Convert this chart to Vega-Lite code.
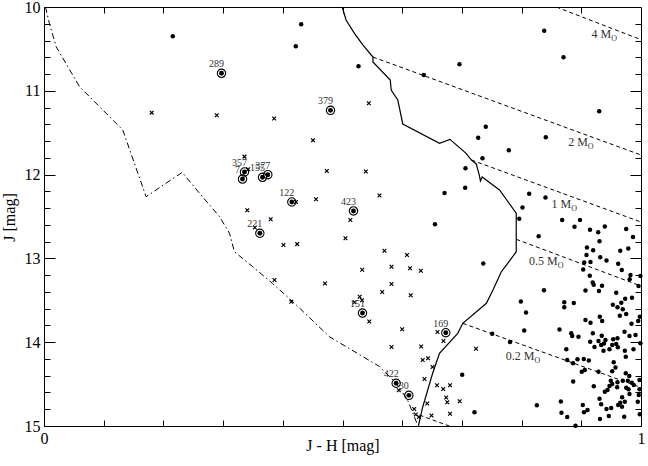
{
  "$schema": "https://vega.github.io/schema/vega-lite/v6.json",
  "width": 597,
  "height": 419,
  "autosize": "none",
  "padding": {"left": 44, "top": 7, "right": 7, "bottom": 40},
  "background": "white",
  "config": {
    "view": {"stroke": "black", "strokeWidth": 1},
    "font": "Liberation Serif, Times New Roman, serif",
    "axis": {"grid": false, "domain": false, "tickColor": "black", "tickWidth": 1, "labelColor": "black", "titleColor": "black", "labelFont": "Liberation Serif, Times New Roman, serif", "titleFont": "Liberation Serif, Times New Roman, serif", "labelFontSize": 16, "titleFontSize": 16, "titleFontWeight": "normal", "labelOverlap": false, "labelFlush": false, "labelBound": false}
  },
  "datasets": {
    "dots": [
      {"x":0.2157,"J":10.350},{"x":0.4308,"J":10.206},{"x":0.4218,"J":10.469},{"x":0.5268,"J":10.708},{"x":0.6362,"J":10.811},{"x":0.6960,"J":10.684},{"x":0.8379,"J":10.283},{"x":0.8702,"J":10.600},{"x":0.9300,"J":11.245},{"x":0.7400,"J":11.428},{"x":0.7273,"J":11.560},{"x":0.8405,"J":11.555},{"x":0.7786,"J":11.710},{"x":0.7345,"J":11.805},{"x":0.7060,"J":11.925},{"x":0.7055,"J":12.156},{"x":0.6709,"J":12.220},{"x":0.8127,"J":12.228},{"x":0.8400,"J":12.273},{"x":0.6549,"J":12.592},{"x":0.7358,"J":13.061},{"x":0.8015,"J":12.393},{"x":0.7961,"J":12.528},{"x":0.8680,"J":12.542},{"x":0.8978,"J":12.542},{"x":0.8886,"J":12.622},{"x":0.9146,"J":12.659},{"x":0.9394,"J":12.619},{"x":0.9752,"J":12.649},{"x":0.9283,"J":12.687},{"x":0.9305,"J":12.795},{"x":0.9866,"J":12.745},{"x":0.8286,"J":12.736},{"x":0.9095,"J":12.870},{"x":0.9199,"J":12.902},{"x":0.9087,"J":12.959},{"x":0.9317,"J":12.987},{"x":0.9422,"J":13.025},{"x":0.9653,"J":12.909},{"x":0.9787,"J":12.882},{"x":0.9049,"J":13.049},{"x":0.9154,"J":13.043},{"x":0.9032,"J":13.132},{"x":0.9142,"J":13.208},{"x":0.9191,"J":13.288},{"x":0.9208,"J":13.314},{"x":0.9347,"J":13.326},{"x":0.9618,"J":13.065},{"x":0.9678,"J":13.138},{"x":0.9824,"J":13.198},{"x":0.9811,"J":13.249},{"x":0.999,"J":13.210},{"x":0.9958,"J":13.329},{"x":0.8375,"J":13.380},{"x":0.9070,"J":13.383},{"x":0.9296,"J":13.389},{"x":0.9585,"J":13.409},{"x":0.7987,"J":13.514},{"x":0.8074,"J":13.646},{"x":0.8715,"J":13.524},{"x":0.8715,"J":13.582},{"x":0.8874,"J":13.532},{"x":0.9528,"J":13.552},{"x":0.9606,"J":13.584},{"x":0.9670,"J":13.529},{"x":0.9735,"J":13.482},{"x":0.9849,"J":13.469},{"x":0.9695,"J":13.607},{"x":0.9752,"J":13.663},{"x":0.9645,"J":13.684},{"x":0.9070,"J":13.735},{"x":0.9154,"J":13.767},{"x":0.9310,"J":13.696},{"x":0.9350,"J":13.747},{"x":0.9841,"J":13.779},{"x":0.9953,"J":13.747},{"x":0.998,"J":13.696},
      {"x":0.7508,"J":13.899},{"x":0.7806,"J":13.998},{"x":0.8044,"J":13.860},{"x":0.8635,"J":13.848},{"x":0.7005,"J":14.388},{"x":0.7211,"J":14.837},{"x":0.8255,"J":14.752},{"x":0.8657,"J":14.708},{"x":0.8668,"J":14.841},{"x":0.8764,"J":14.893},{"x":0.8903,"J":14.998},{"x":0.8831,"J":13.894},{"x":0.8848,"J":13.926},{"x":0.8953,"J":13.934},{"x":0.9149,"J":13.994},{"x":0.9193,"J":13.894},{"x":0.9343,"J":13.922},{"x":0.9288,"J":13.986},{"x":0.9405,"J":13.974},{"x":0.9333,"J":14.033},{"x":0.9372,"J":14.101},{"x":0.9472,"J":14.085},{"x":0.9518,"J":14.033},{"x":0.9606,"J":13.953},{"x":0.9585,"J":14.022},{"x":0.9724,"J":13.875},{"x":0.9807,"J":13.926},{"x":0.9908,"J":13.914},{"x":0.999,"J":14.013},{"x":0.9874,"J":14.085},{"x":0.9729,"J":14.101},{"x":0.8749,"J":14.083},{"x":0.8765,"J":14.212},{"x":0.8861,"J":14.252},{"x":0.8936,"J":14.203},{"x":0.9042,"J":14.200},{"x":0.9126,"J":14.218},{"x":0.9059,"J":14.332},{"x":0.9008,"J":14.353},{"x":0.8864,"J":14.469},{"x":0.9288,"J":14.352},{"x":0.9543,"J":14.240},{"x":0.9573,"J":14.302},{"x":0.9518,"J":14.347},{"x":0.9745,"J":14.173},{"x":0.9745,"J":14.371},{"x":0.9804,"J":14.403},{"x":0.9494,"J":14.459},{"x":0.9606,"J":14.479},{"x":0.9695,"J":14.459},{"x":0.9779,"J":14.459},{"x":0.9846,"J":14.483},{"x":0.9975,"J":14.451},{"x":0.9879,"J":14.511},{"x":0.9209,"J":14.526},{"x":0.9439,"J":14.570},{"x":0.9394,"J":14.591},{"x":0.9472,"J":14.523},{"x":0.9518,"J":14.499},{"x":0.9601,"J":14.538},{"x":0.9752,"J":14.543},{"x":0.9791,"J":14.562},{"x":0.9975,"J":14.562},{"x":0.9807,"J":14.618},{"x":0.9963,"J":14.630},{"x":0.9305,"J":14.675},{"x":0.9333,"J":14.740},{"x":0.9422,"J":14.797},{"x":0.9501,"J":14.785},{"x":0.9652,"J":14.722},{"x":0.9682,"J":14.770},{"x":0.9729,"J":14.710},{"x":0.9618,"J":14.749},{"x":0.9946,"J":14.710},{"x":0.9104,"J":14.809},{"x":0.9045,"J":14.837},{"x":0.9025,"J":14.749},{"x":0.9313,"J":14.916},{"x":0.9461,"J":14.881},{"x":0.9719,"J":14.889},{"x":0.998,"J":14.860},{"x":0.9684,"J":14.657},{"x":0.9221,"J":14.057},{"x":0.9380,"J":14.016},{"x":0.9534,"J":13.965},{"x":0.9612,"J":14.061}
    ],
    "crosses": [
      {"x":0.1804,"J":11.261},{"x":0.2894,"J":11.292},{"x":0.3856,"J":11.331},{"x":0.4506,"J":11.591},{"x":0.5441,"J":11.149},{"x":0.3358,"J":11.786},{"x":0.3420,"J":11.936},{"x":0.4737,"J":11.957},{"x":0.5390,"J":11.963},{"x":0.5620,"J":12.249},{"x":0.4556,"J":12.294},{"x":0.4221,"J":12.327},{"x":0.3405,"J":12.426},{"x":0.3797,"J":12.532},{"x":0.5131,"J":12.542},{"x":0.3531,"J":12.631},{"x":0.4012,"J":12.840},{"x":0.4241,"J":12.830},{"x":0.5050,"J":12.760},{"x":0.5703,"J":12.908},{"x":0.6080,"J":12.959},{"x":0.5330,"J":13.135},{"x":0.5821,"J":13.099},{"x":0.6131,"J":13.118},{"x":0.6312,"J":13.147},{"x":0.3861,"J":13.258},{"x":0.4707,"J":13.300},{"x":0.5821,"J":13.306},{"x":0.5665,"J":13.401},{"x":0.6142,"J":13.440},{"x":0.4142,"J":13.517},{"x":0.5288,"J":13.457},{"x":0.5201,"J":13.524},{"x":0.5327,"J":13.500},{"x":0.5449,"J":13.753},{"x":0.6000,"J":13.846},{"x":0.6591,"J":13.878},{"x":0.6692,"J":13.986},{"x":0.5821,"J":14.057},{"x":0.6318,"J":14.051},{"x":0.7236,"J":14.079},{"x":0.6343,"J":14.212},{"x":0.6432,"J":14.192},{"x":0.6508,"J":14.296},{"x":0.6374,"J":14.439},{"x":0.6583,"J":14.513},{"x":0.6687,"J":14.558},{"x":0.6801,"J":14.513},{"x":0.5943,"J":14.573},{"x":0.6737,"J":14.660},{"x":0.6755,"J":14.716},{"x":0.6963,"J":14.704},{"x":0.6420,"J":14.731},{"x":0.6201,"J":14.797},{"x":0.6801,"J":14.853},{"x":0.6228,"J":14.863},{"x":0.6281,"J":14.893},{"x":0.6491,"J":14.875}
    ],
    "circled": [
      {"x":0.2973,"J":10.791,"id":"289"},{"x":0.4799,"J":11.233,"id":"379"},{"x":0.3358,"J":11.969,"id":"357"},{"x":0.3325,"J":12.053,"id":"7"},{"x":0.3660,"J":12.032,"id":"155"},{"x":0.3749,"J":12.001,"id":"377"},{"x":0.4151,"J":12.327,"id":"122"},{"x":0.5184,"J":12.434,"id":"423"},{"x":0.3615,"J":12.700,"id":"221"},{"x":0.5335,"J":13.652,"id":"151"},{"x":0.6730,"J":13.887,"id":"169"},{"x":0.5899,"J":14.490,"id":"422"},{"x":0.6111,"J":14.634,"id":"30"}
    ],
    "dashdot": [
      {"i":0,"x":0.0025,"J":10.0},{"i":1,"x":0.009,"J":10.195},{"i":2,"x":0.0204,"J":10.474},{"i":3,"x":0.0595,"J":10.951},{"i":4,"x":0.093,"J":11.19},{"i":5,"x":0.132,"J":11.468},{"i":6,"x":0.171,"J":12.264},{"i":7,"x":0.2315,"J":11.973},{"i":8,"x":0.2605,"J":12.223},{"i":9,"x":0.294,"J":12.502},{"i":10,"x":0.3107,"J":12.70},{"i":11,"x":0.319,"J":12.92},{"i":12,"x":0.3497,"J":13.10},{"i":13,"x":0.383,"J":13.30},{"i":14,"x":0.4168,"J":13.517},{"i":15,"x":0.478,"J":13.934},{"i":16,"x":0.562,"J":14.29},{"i":17,"x":0.590,"J":14.49},{"i":18,"x":0.609,"J":14.69},{"i":19,"x":0.626,"J":14.99}
    ],
    "solid": [
      {"i":0,"x":0.4995,"J":10.0},{"i":1,"x":0.506,"J":10.155},{"i":2,"x":0.520,"J":10.314},{"i":3,"x":0.534,"J":10.453},{"i":4,"x":0.551,"J":10.597},{"i":5,"x":0.551,"J":10.656},{"i":6,"x":0.580,"J":10.871},{"i":7,"x":0.5816,"J":10.99},{"i":8,"x":0.5926,"J":11.11},{"i":9,"x":0.601,"J":11.396},{"i":10,"x":0.6625,"J":11.626},{"i":11,"x":0.680,"J":11.579},{"i":12,"x":0.707,"J":11.746},{"i":13,"x":0.716,"J":11.826},{"i":14,"x":0.724,"J":11.873},{"i":15,"x":0.7295,"J":12.017},{"i":16,"x":0.731,"J":12.076},{"i":17,"x":0.734,"J":12.029},{"i":18,"x":0.763,"J":12.184},{"i":19,"x":0.791,"J":12.46},{"i":20,"x":0.791,"J":12.92},{"i":21,"x":0.785,"J":12.98},{"i":22,"x":0.766,"J":13.16},{"i":23,"x":0.752,"J":13.377},{"i":24,"x":0.741,"J":13.536},{"i":25,"x":0.7015,"J":13.775},{"i":26,"x":0.693,"J":13.894},{"i":27,"x":0.6625,"J":14.132},{"i":28,"x":0.651,"J":14.371},{"i":29,"x":0.6345,"J":14.77},{"i":30,"x":0.627,"J":15.0}
    ],
    "mass": [
      {"m":"4","x":0.858,"J":10.0},{"m":"4","x":1.0,"J":10.39},
      {"m":"2","x":0.551,"J":10.597},{"m":"2","x":1.0,"J":11.766},
      {"m":"1","x":0.716,"J":11.826},{"m":"1","x":1.0,"J":12.566},
      {"m":"0.5","x":0.791,"J":12.772},{"m":"0.5","x":1.0,"J":13.33},
      {"m":"0.2","x":0.7015,"J":13.775},{"m":"0.2","x":1.0,"J":14.54},
      {"m":"0.1","x":0.629,"J":14.87},{"m":"0.1","x":0.679,"J":15.0}
    ],
    "masslab": [
      {"x":0.9501,"J":10.374,"t":"4 M","s":"O"},{"x":0.911,"J":11.655,"t":"2 M","s":"O"},{"x":0.883,"J":12.402,"t":"1 M","s":"O"},{"x":0.8606,"J":13.079,"t":"0.5 M","s":"O"},{"x":0.8216,"J":14.212,"t":"0.2 M","s":"O"}
    ]
  },
  "layer": [
    {
      "data": {"name": "dashdot"},
      "mark": {"type": "line", "color": "black", "strokeWidth": 1, "strokeDash": [6, 3, 1.5, 3]},
      "encoding": {
        "x": {"field": "x", "type": "quantitative", "scale": {"domain": [0, 1], "nice": false, "zero": false},
          "axis": {"orient": "bottom", "title": "J - H [mag]", "titleBaseline": "alphabetic", "titleY": 24, "values": [0, 0.1, 0.2, 0.3, 0.4, 0.5, 0.6, 0.7, 0.8, 0.9, 1], "tickSize": -6, "labelPadding": 10, "labelExpr": "datum.value == 0 ? '0' : (datum.value == 1 ? '1' : '')"}},
        "y": {"field": "J", "type": "quantitative", "scale": {"domain": [10, 15], "reverse": true, "nice": false, "zero": false},
          "axis": {"orient": "left", "title": "J [mag]", "titleBaseline": "alphabetic", "titleX": -30, "titleY": 210, "titleAngle": -90, "values": [10, 10.2, 10.4, 10.6, 10.8, 11, 11.2, 11.4, 11.6, 11.8, 12, 12.2, 12.4, 12.6, 12.8, 13, 13.2, 13.4, 13.6, 13.8, 14, 14.2, 14.4, 14.6, 14.8, 15],
            "tickSize": {"condition": {"test": "datum.value % 1 === 0", "value": -11}, "value": -6}, "labelPadding": 15, "labelExpr": "datum.value % 1 === 0 ? format(datum.value, 'd') : ''"}},
        "order": {"field": "i", "type": "quantitative"}
      }
    },
    {
      "data": {"name": "solid"},
      "mark": {"type": "line", "color": "black", "strokeWidth": 1.2},
      "encoding": {
        "x": {"field": "x", "type": "quantitative", "scale": {"domain": [0, 1], "nice": false, "zero": false},
          "axis": {"orient": "top", "title": null, "labels": false, "values": [0.1, 0.2, 0.3, 0.4, 0.5, 0.6, 0.7, 0.8, 0.9], "tickSize": -6}},
        "y": {"field": "J", "type": "quantitative", "scale": {"domain": [10, 15], "reverse": true, "nice": false, "zero": false},
          "axis": {"orient": "right", "title": null, "labels": false, "values": [10.2, 10.4, 10.6, 10.8, 11, 11.2, 11.4, 11.6, 11.8, 12, 12.2, 12.4, 12.6, 12.8, 13, 13.2, 13.4, 13.6, 13.8, 14, 14.2, 14.4, 14.6, 14.8],
            "tickSize": {"condition": {"test": "datum.value % 1 === 0", "value": -11}, "value": -6}}},
        "order": {"field": "i", "type": "quantitative"}
      }
    },
    {
      "data": {"name": "mass"},
      "mark": {"type": "line", "color": "black", "strokeWidth": 1, "strokeDash": [4, 3], "clip": true},
      "encoding": {
        "x": {"field": "x", "type": "quantitative", "scale": {"domain": [0, 1], "nice": false, "zero": false}, "axis": null},
        "y": {"field": "J", "type": "quantitative", "scale": {"domain": [10, 15], "reverse": true, "nice": false, "zero": false}, "axis": null},
        "detail": {"field": "m", "type": "nominal"}
      }
    },
    {
      "data": {"name": "dots"},
      "mark": {"type": "point", "shape": "circle", "filled": true, "color": "black", "opacity": 1, "size": 20},
      "encoding": {
        "x": {"field": "x", "type": "quantitative", "scale": {"domain": [0, 1], "nice": false, "zero": false}, "axis": null},
        "y": {"field": "J", "type": "quantitative", "scale": {"domain": [10, 15], "reverse": true, "nice": false, "zero": false}, "axis": null}
      }
    },
    {
      "data": {"name": "crosses"},
      "mark": {"type": "point", "shape": "M-1,-1L1,1M1,-1L-1,1", "filled": false, "stroke": "black", "strokeWidth": 1.2, "opacity": 1, "size": 14},
      "encoding": {
        "x": {"field": "x", "type": "quantitative", "scale": {"domain": [0, 1], "nice": false, "zero": false}, "axis": null},
        "y": {"field": "J", "type": "quantitative", "scale": {"domain": [10, 15], "reverse": true, "nice": false, "zero": false}, "axis": null}
      }
    },
    {
      "data": {"name": "circled"},
      "mark": {"type": "point", "shape": "circle", "filled": false, "stroke": "black", "strokeWidth": 1.1, "opacity": 1, "size": 70},
      "encoding": {
        "x": {"field": "x", "type": "quantitative", "scale": {"domain": [0, 1], "nice": false, "zero": false}, "axis": null},
        "y": {"field": "J", "type": "quantitative", "scale": {"domain": [10, 15], "reverse": true, "nice": false, "zero": false}, "axis": null}
      }
    },
    {
      "data": {"name": "circled"},
      "mark": {"type": "point", "shape": "circle", "filled": true, "color": "black", "opacity": 1, "size": 24},
      "encoding": {
        "x": {"field": "x", "type": "quantitative", "scale": {"domain": [0, 1], "nice": false, "zero": false}, "axis": null},
        "y": {"field": "J", "type": "quantitative", "scale": {"domain": [10, 15], "reverse": true, "nice": false, "zero": false}, "axis": null}
      }
    },
    {
      "data": {"name": "circled"},
      "mark": {"type": "text", "font": "Liberation Serif, Times New Roman, serif", "fontSize": 10, "color": "#333333", "dx": -5, "dy": -9, "align": "center", "baseline": "middle"},
      "encoding": {
        "x": {"field": "x", "type": "quantitative", "scale": {"domain": [0, 1], "nice": false, "zero": false}, "axis": null},
        "y": {"field": "J", "type": "quantitative", "scale": {"domain": [10, 15], "reverse": true, "nice": false, "zero": false}, "axis": null},
        "text": {"field": "id", "type": "nominal"}
      }
    },
    {
      "data": {"name": "masslab"},
      "mark": {"type": "text", "font": "Liberation Serif, Times New Roman, serif", "fontSize": 12, "color": "#333333", "align": "right", "baseline": "alphabetic"},
      "encoding": {
        "x": {"field": "x", "type": "quantitative", "scale": {"domain": [0, 1], "nice": false, "zero": false}, "axis": null},
        "y": {"field": "J", "type": "quantitative", "scale": {"domain": [10, 15], "reverse": true, "nice": false, "zero": false}, "axis": null},
        "text": {"field": "t", "type": "nominal"}
      }
    },
    {
      "data": {"name": "masslab"},
      "mark": {"type": "text", "font": "Liberation Serif, Times New Roman, serif", "fontSize": 8, "color": "#333333", "align": "left", "baseline": "alphabetic", "dy": 3},
      "encoding": {
        "x": {"field": "x", "type": "quantitative", "scale": {"domain": [0, 1], "nice": false, "zero": false}, "axis": null},
        "y": {"field": "J", "type": "quantitative", "scale": {"domain": [10, 15], "reverse": true, "nice": false, "zero": false}, "axis": null},
        "text": {"field": "s", "type": "nominal"}
      }
    }
  ],
  "resolve": {"axis": {"x": "independent", "y": "independent"}}
}
